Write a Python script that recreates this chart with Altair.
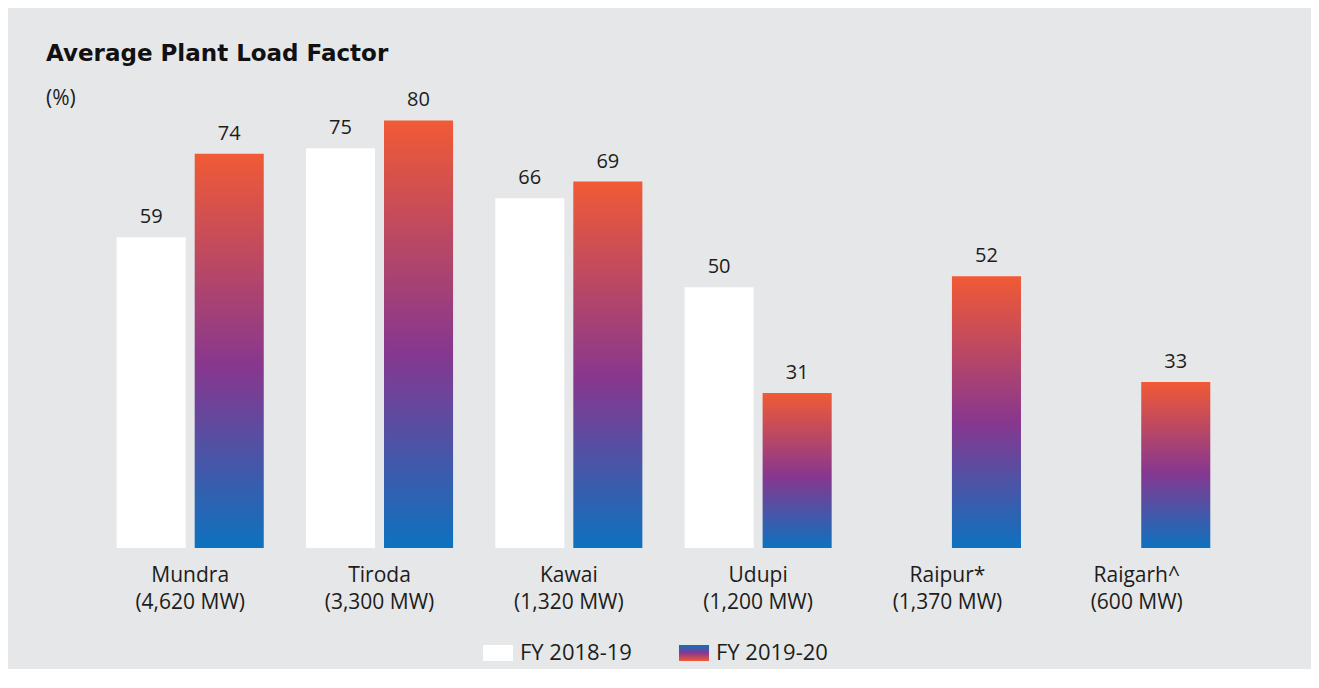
import altair as alt
import pandas as pd

plants = ["Mundra", "Tiroda", "Kawai", "Udupi", "Raipur*", "Raigarh^"]
capacities = ["(4,620 MW)", "(3,300 MW)", "(1,320 MW)", "(1,200 MW)", "(1,370 MW)", "(600 MW)"]
series = ["FY 2018-19", "FY 2019-20"]
plf_2018_19 = [59, 75, 66, 50, None, None]
plf_2019_20 = [74, 80, 69, 31, 52, 33]

order = [p + "|" + c for p, c in zip(plants, capacities)]
rows = []
for lab, a, b in zip(order, plf_2018_19, plf_2019_20):
    if a is not None:
        rows.append({"plant": lab, "series": series[0], "plf": a})
    if b is not None:
        rows.append({"plant": lab, "series": series[1], "plf": b})
df = pd.DataFrame(rows)

TXT = "#1d1d1b"
BG = "#e6e7e9"

grad = alt.LinearGradient(
    gradient="linear",
    stops=[
        alt.GradientStop(color="#f15a35", offset=0),
        alt.GradientStop(color="#87378f", offset=0.54),
        alt.GradientStop(color="#0d72bf", offset=1),
    ],
    x1=0, x2=0, y1=0, y2=1,
)
grad_rev = alt.LinearGradient(
    gradient="linear",
    stops=[
        alt.GradientStop(color="#0d72bf", offset=0),
        alt.GradientStop(color="#87378f", offset=0.5),
        alt.GradientStop(color="#f15a35", offset=1),
    ],
    x1=0, x2=0, y1=0, y2=1,
)

x = alt.X(
    "plant:N",
    sort=order,
    scale=alt.Scale(paddingInner=0.223, paddingOuter=0.553, align=0.519),
    axis=alt.Axis(
        title=None, labelAngle=0, labelExpr="split(datum.label, '|')",
        labelFont="Open Sans", labelFontSize=21, labelColor=TXT,
        labelLineHeight=27, labelPadding=16, ticks=False, tickSize=0,
        domain=False, grid=False, labelOverlap=False, labelBaseline="top",
    ),
)
xo = alt.XOffset("series:N", sort=series, scale=alt.Scale(domain=series, paddingInner=0.115))
y = alt.Y("plf:Q", stack=None, scale=alt.Scale(domain=[3.16, 86], zero=False, nice=False), axis=None)

bars = alt.Chart(df).mark_bar(clip=True).encode(
    x=x, xOffset=xo, y=y,
    color=alt.condition(alt.datum.series == series[0], alt.value("white"), alt.value(grad)),
)
labels = alt.Chart(df).mark_text(
    baseline="alphabetic", dy=-14, font="Open Sans", fontSize=20, color=TXT
).encode(x=x, xOffset=xo, y=y, text="plf:Q")

main = alt.layer(bars, labels).properties(
    width=1303, height=461,
    title=alt.TitleParams(
        text="Average Plant Load Factor", subtitle="(%)",
        anchor="start", frame="group", dx=38,
        font="DejaVu Sans", fontWeight="bold", fontSize=23, color="#111111",
        subtitleFont="Open Sans", subtitleFontSize=21, subtitleColor=TXT,
        subtitlePadding=22, offset=-22,
    ),
)

leg_df = pd.DataFrame({"entry": series})
lx = alt.X("entry:N", sort=series,
           scale=alt.Scale(paddingInner=0, paddingOuter=0, range=[377, 769]), axis=None)
leg_sym = alt.Chart(leg_df).mark_point(
    shape="M-1,-0.533H1V0.533H-1Z", size=900, filled=True, opacity=1, strokeWidth=0, xOffset=15
).encode(
    x=lx,
    color=alt.condition(alt.datum.entry == series[0], alt.value("white"), alt.value(grad_rev)),
)
leg_txt = alt.Chart(leg_df).mark_text(
    align="left", baseline="middle", dx=37, font="Open Sans", fontSize=22, color=TXT
).encode(x=lx, text="entry:N")
legend = alt.layer(leg_sym, leg_txt).properties(width=1303, height=20)

chart = alt.vconcat(main, legend, spacing=30).resolve_scale(x="independent").properties(
    background=BG,
    padding={"left": 0, "right": 0, "top": 35, "bottom": 5},
).configure_view(strokeOpacity=0)

chart.save("out.html", embed_options={"renderer": "svg", "actions": False})
